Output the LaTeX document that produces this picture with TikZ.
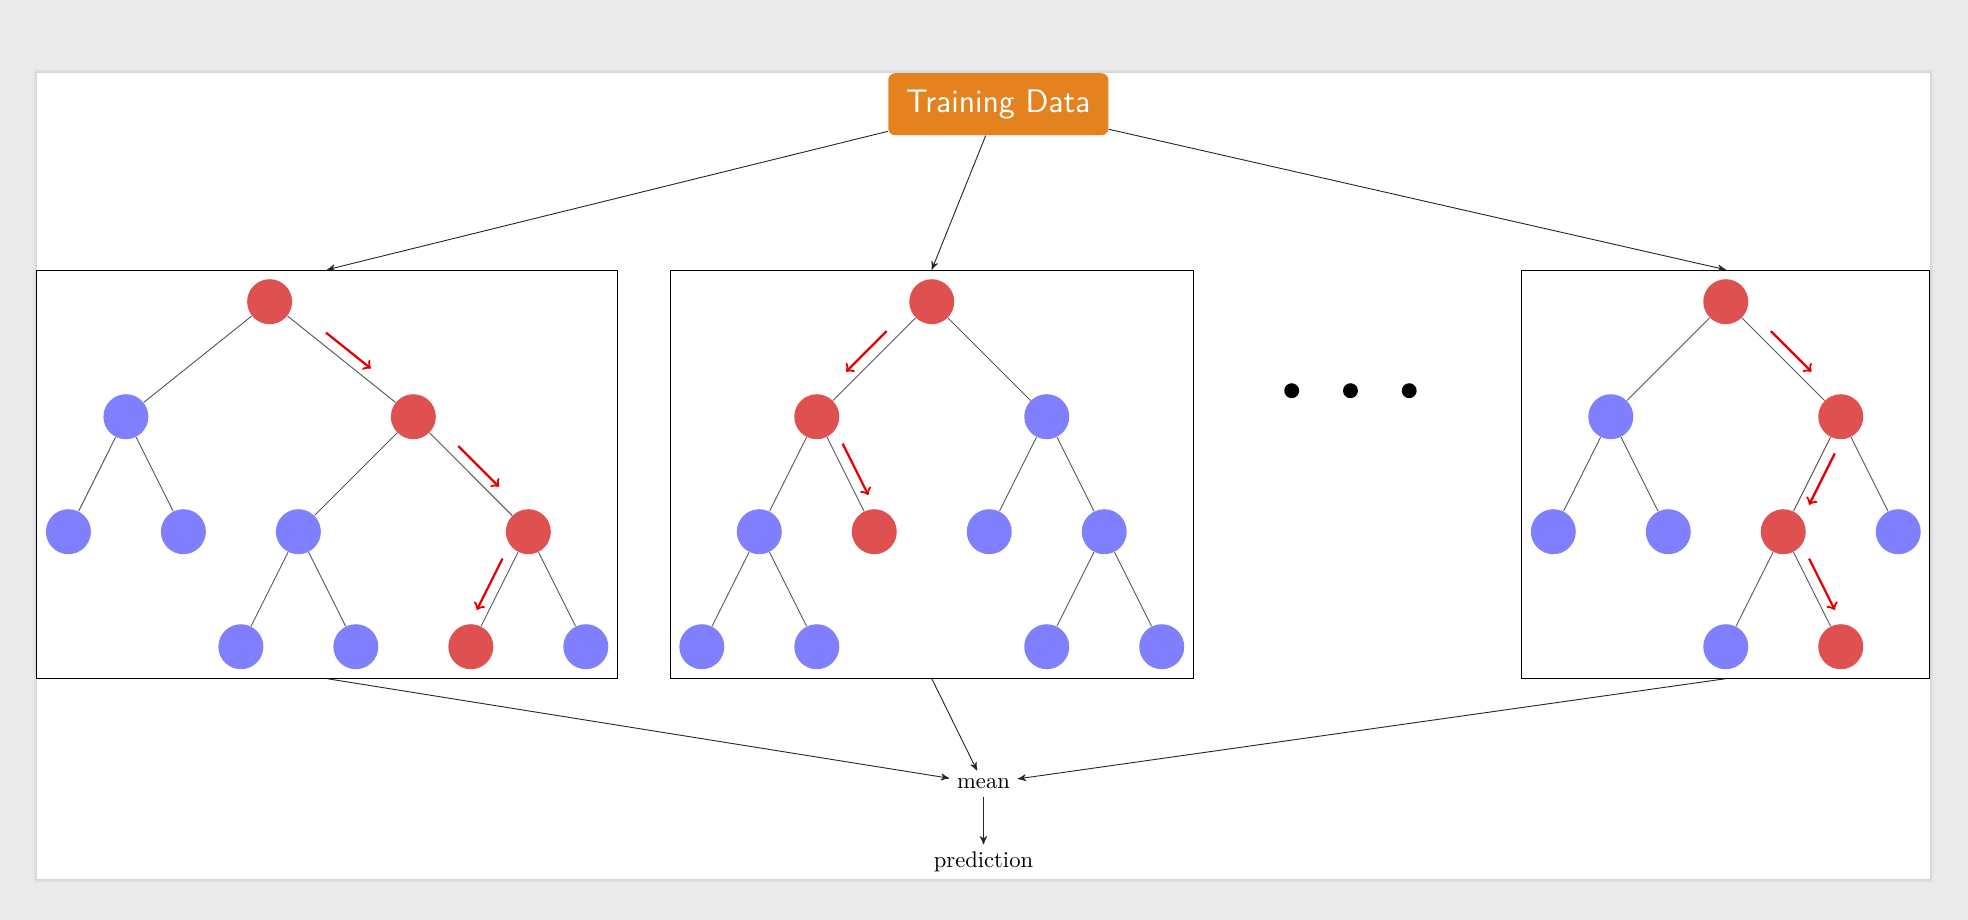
\documentclass[tikz,border=0pt]{standalone}
\usepackage{tikz}
\usetikzlibrary{
    positioning,
    calc,
    fit,
    arrows
}
\definecolor{dataorange}{RGB}{229,130,32}
\definecolor{hitred}{RGB}{223,80,80}
\definecolor{missblue}{RGB}{128,128,255}
\definecolor{viewergrey}{RGB}{234,234,234}
\tikzset{
  databox/.style = {
      rectangle,
      rounded corners=3pt,
      fill=dataorange,
      text=white,
      font=\sffamily\Large,
      minimum width=97.4pt,
      minimum height=27.4pt
  },
  leaf/.style = {
      circle,
      minimum size=19.9pt,
      inner sep=0pt
  },
  hit/.style = {
      leaf,
      fill=hitred
  },
  miss/.style = {
      leaf,
      fill=missblue
  },
  branch/.style = {
      draw=black!65
  },
  treebox/.style = {
      draw,
      inner sep=3.8pt
  },
  feed/.style = {
      -stealth',
      draw=black!85
  },
  flow/.style = {
      ->,
      draw=red!90!black,
      line width=1pt
  },
  ellipsisdot/.style = {
      circle,
      fill=black,
      minimum size=6.6pt,
      inner sep=0pt
  }
}
% red arrow beside an edge: from, to, side
\newcommand{\flow}[3]{%
  \draw[flow] ($(#1)!.5!(#2)!12.7pt!180:(#2)!4.9pt!#3:(#2)$)
    -- ($(#1)!.5!(#2)!12.7pt!(#2)!4.9pt!#3:(#2)$);
}

\begin{document}
\begin{tikzpicture}[x=0.4425pt, y=-0.4425pt]
    % Viewer and page
    \fill[viewergrey] (0,0) rectangle (1968,920);
    \foreach \s/\o in {4/0.015, 3/0.02, 2/0.02, 1/0.025}
        \fill[black, opacity=\o] (37-\s,73-\s) rectangle (1930+\s,879+\s);
    \fill[white] (37,73) rectangle (1930,879);
    \useasboundingbox (0,0) rectangle (1968,920);
    % Input
    \node[databox] (data) at (998.3,104.2) {Training Data};
    % Tree A
    \begin{scope}[shift={(68.4,301.7)}, x=25.44pt, y=-50.89pt]
        \node[hit]  (a)    at (3.5,0) {};
        \node[miss] (al)   at (1,1) {};
        \node[hit]  (ar)   at (6,1) {};
        \node[miss] (all)  at (0,2) {};
        \node[miss] (alr)  at (2,2) {};
        \node[miss] (arl)  at (4,2) {};
        \node[hit]  (arr)  at (8,2) {};
        \node[miss] (arll) at (3,3) {};
        \node[miss] (arlr) at (5,3) {};
        \node[hit]  (arrl) at (7,3) {};
        \node[miss] (arrr) at (9,3) {};
    \end{scope}
    \path[branch]
    (a) edge (al)
    (a) edge (ar)
    (al) edge (all)
    (al) edge (alr)
    (ar) edge (arl)
    (ar) edge (arr)
    (arl) edge (arll)
    (arl) edge (arlr)
    (arr) edge (arrl)
    (arr) edge (arrr);
    \flow{a}{ar}{90}
    \flow{ar}{arr}{90}
    \flow{arr}{arrl}{-90}
    \node[treebox, fit=(a)(all)(arrr)(arll)] (treeA) {};
    % Tree B
    \begin{scope}[shift={(701.8,301.7)}, x=25.44pt, y=-50.89pt]
        \node[hit]  (b)    at (4,0) {};
        \node[hit]  (bl)   at (2,1) {};
        \node[miss] (br)   at (6,1) {};
        \node[miss] (bll)  at (1,2) {};
        \node[hit]  (blr)  at (3,2) {};
        \node[miss] (brl)  at (5,2) {};
        \node[miss] (brr)  at (7,2) {};
        \node[miss] (blll) at (0,3) {};
        \node[miss] (bllr) at (2,3) {};
        \node[miss] (brrl) at (6,3) {};
        \node[miss] (brrr) at (8,3) {};
    \end{scope}
    \path[branch]
    (b) edge (bl)
    (b) edge (br)
    (bl) edge (bll)
    (bl) edge (blr)
    (br) edge (brl)
    (br) edge (brr)
    (bll) edge (blll)
    (bll) edge (bllr)
    (brr) edge (brrl)
    (brr) edge (brrr);
    \flow{b}{bl}{-90}
    \flow{bl}{blr}{90}
    \node[treebox, fit=(b)(blll)(brrr)] (treeB) {};
    % Tree C
    \begin{scope}[shift={(1553.3,301.7)}, x=25.44pt, y=-50.89pt]
        \node[hit]  (c)    at (3,0) {};
        \node[miss] (cl)   at (1,1) {};
        \node[hit]  (cr)   at (5,1) {};
        \node[miss] (cll)  at (0,2) {};
        \node[miss] (clr)  at (2,2) {};
        \node[hit]  (crl)  at (4,2) {};
        \node[miss] (crr)  at (6,2) {};
        \node[miss] (crll) at (3,3) {};
        \node[hit]  (crlr) at (5,3) {};
    \end{scope}
    \path[branch]
    (c) edge (cl)
    (c) edge (cr)
    (cl) edge (cll)
    (cl) edge (clr)
    (cr) edge (crl)
    (cr) edge (crr)
    (crl) edge (crll)
    (crl) edge (crlr);
    \flow{c}{cr}{90}
    \flow{cr}{crl}{90}
    \flow{crl}{crlr}{90}
    \node[treebox, fit=(c)(cll)(crr)(crll)] (treeC) {};
    % More trees
    \node[ellipsisdot] (dot1) at (1291.7,390.7) {};
    \node[ellipsisdot, right=19pt of dot1] (dot2) {};
    \node[ellipsisdot, right=19pt of dot2] (dot3) {};
    % Output
    \node (mean) at (983.5,783.7) {mean};
    \node[below=21pt of mean] (pred) {prediction};
    % Connections
    \draw[feed] (data) -- (treeA.north);
    \draw[feed] (data) -- (treeB.north);
    \draw[feed] (data) -- (treeC.north);
    \draw[feed] (treeA.south) -- (mean);
    \draw[feed] (treeB.south) -- (mean);
    \draw[feed] (treeC.south) -- (mean);
    \draw[feed] (mean) -- (pred);
\end{tikzpicture}
\end{document}
